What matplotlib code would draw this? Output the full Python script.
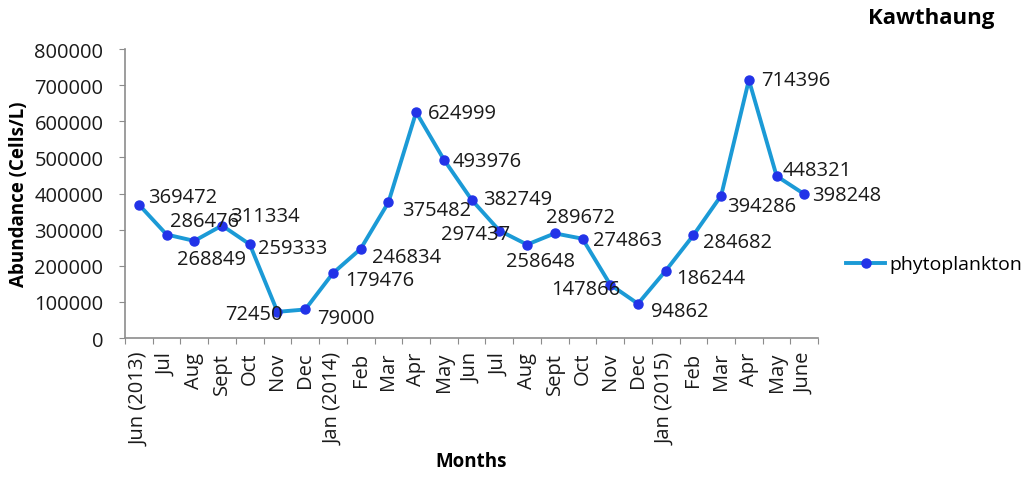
import matplotlib.pyplot as plt

# monthly phytoplankton abundance, Kawthaung station
months = ["Jun (2013)", "Jul", "Aug", "Sept", "Oct", "Nov", "Dec",
          "Jan (2014)", "Feb", "Mar", "Apr", "May", "Jun", "Jul", "Aug",
          "Sept", "Oct", "Nov", "Dec", "Jan (2015)", "Feb", "Mar", "Apr",
          "May", "June"]
abundance = [369472, 286476, 268849, 311334, 259333, 72450, 79000,
             179476, 246834, 375482, 624999, 493976, 382749, 297437, 258648,
             289672, 274863, 147866, 94862, 186244, 284682, 394286, 714396,
             448321, 398248]
y_ticks = [0, 100000, 200000, 300000, 400000, 500000, 600000, 700000, 800000]

# where each value label sits relative to its point (pixels), and alignment
label_pos = [
    (9, 8, "left"), (3, 14, "left"), (-17, -18, "left"), (8, 10, "left"),
    (8, -4, "left"), (5, -2, "right"), (12, -9, "left"), (12, -7, "left"),
    (11, -8, "left"), (14, -8, "left"), (12, -1, "left"), (9, -1, "left"),
    (11, 1, "left"), (11, -3, "right"), (-21, -16, "left"), (-9, 16, "left"),
    (10, -1, "left"), (10, -4, "right"), (13, -7, "left"), (10, -7, "left"),
    (10, -7, "left"), (6, -10, "left"), (12, 0, "left"), (6, 6, "left"),
    (8, -1, "left"),
]

plt.rcParams['font.family'] = ['Open Sans', 'DejaVu Sans']

fig = plt.figure(figsize=(10.27, 4.81), dpi=100)
ax = fig.add_axes([0.1217, 0.2952, 0.675, 0.6008])

x = list(range(len(months)))
ax.plot(x, abundance, color='#1B9AD6', lw=2.8, marker='o', markersize=6.5,
        markerfacecolor='#2233E8', markeredgecolor='#2233E8',
        label='phytoplankton', zorder=3)

for i, v in enumerate(abundance):
    dx, dy, ha = label_pos[i]
    ax.annotate(str(v), (i, v), xytext=(dx * 0.72, dy * 0.72),
                textcoords='offset points', ha=ha, va='center',
                fontsize=14.5, color='#1a1a1a', zorder=4)

ax.set_xlim(-0.5, len(months) - 0.5)
ax.set_ylim(0, 800000)
ax.set_yticks(y_ticks)
ax.set_yticklabels([str(t) for t in y_ticks], fontsize=14.5, color='#1a1a1a')

# category ticks sit between the months, labels at the months
ax.set_xticks([i - 0.5 for i in range(len(months) + 1)])
ax.set_xticklabels([])
ax.set_xticks(x, minor=True)
ax.set_xticklabels(months, minor=True, rotation=90, fontsize=14.5,
                   color='#1a1a1a')
ax.tick_params(axis='x', which='minor', length=0, pad=10)
ax.tick_params(axis='x', which='major', length=4.5, color='#8c8c8c', direction='out')
ax.tick_params(axis='y', length=4.5, color='#8c8c8c', direction='out', pad=11)

for side in ['top', 'right']:
    ax.spines[side].set_visible(False)
for side in ['left', 'bottom']:
    ax.spines[side].set_color('#8c8c8c')
    ax.spines[side].set_linewidth(1.2)

ax.set_ylabel('Abundance (Cells/L)', fontsize=13.5, fontweight='bold', labelpad=4)
ax.set_xlabel('Months', fontsize=13.5, fontweight='bold', labelpad=4)

fig.text(0.907, 0.962, 'Kawthaung', fontsize=16, fontweight='bold',
         ha='center', va='center')

ax.legend(loc='center left', bbox_to_anchor=(1.015, 0.255), frameon=False,
          fontsize=14, handlelength=2.0, handletextpad=0.25)

fig.savefig('out.png', dpi=100)
